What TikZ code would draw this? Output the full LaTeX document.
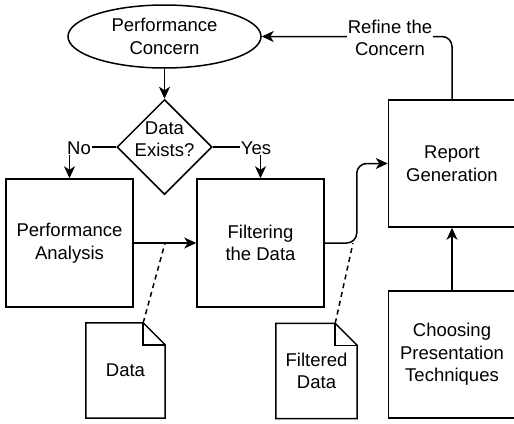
\documentclass[tikz,border=0pt]{standalone}
\usepackage{fontspec}
\setmainfont{Liberation Sans}
\usetikzlibrary{shapes.geometric,arrows.meta,calc}
\begin{document}
\begin{tikzpicture}[x=1pt,y=-1pt,
  every node/.style={font=\fontsize{18.5}{22.5}\selectfont, align=center},
  ln/.style={line width=1.5pt},
  arr/.style={ln, -{Stealth[length=12pt,width=11pt,inset=3.5pt]}},
  boxnode/.style={draw, ln, rectangle, minimum width=127pt, minimum height=128pt, inner sep=0pt},
  docnode/.style={rectangle, minimum height=95pt, inner sep=0pt},
  lbl/.style={fill=white, inner sep=1pt},
  dsh/.style={ln, dash pattern=on 5pt off 4pt}
]
\useasboundingbox (0,0) rectangle (514,423);
\clip (0,0) rectangle (514,423);

\node[draw, ln, ellipse, minimum width=193pt, minimum height=63pt, inner sep=0pt] (pc) at (164.5,36.5) {Performance\\Concern};
\node[draw, ln, diamond, minimum width=95pt, minimum height=95pt, inner sep=0pt] (d) at (164.5,147) {};
\node (dt) at (164.5,139) {Data\\Exists?};

\node[boxnode] (pa) at (69.5,243) {Performance\\Analysis};
\node[boxnode] (ft) at (260.5,243) {Filtering\\the Data};
\node[boxnode, minimum height=127pt] (rg) at (452,163.5) {Report\\Generation};
\node[boxnode, minimum height=127pt] (cp) at (452,354.5) {Choosing\\Presentation\\Techniques};

\node[docnode, minimum width=79pt] (data) at (125.5,370.5) {Data};
\node[docnode, minimum width=81pt] (fd) at (316.5,371) {Filtered\\Data};

\foreach \n in {data,fd}{
  \draw[ln, line join=miter] (\n.north west) -- ($(\n.north east)+(-22,0)$) -- ($(\n.north east)+(0,22)$) -- (\n.south east) -- (\n.south west) -- cycle;
  \draw[ln] ($(\n.north east)+(-22,0)$) -- ($(\n.north east)+(-22,22)$) -- ($(\n.north east)+(0,22)$);
}

\draw[arr] (pc) -- (d);
\draw[arr] (d.west) -| (pa.north);
\draw[arr] (d.east) -| (ft.north);
\draw[arr] (pa.east) -- (ft.west);
\draw[arr, rounded corners=10pt] (ft.east) -- ++(32,0) |- (rg.west);
\draw[arr] (cp) -- (rg);
\draw[arr, rounded corners=10pt] (rg.north) |- (pc.east);

\coordinate (fdm) at (353,243);
\draw[dsh] ($(data.north east)+(-22,0)$) -- ($(pa.east)!0.5!(ft.west)$);
\draw[dsh] ($(fd.north east)+(-22,0)$) -- (fdm);

\node[lbl] (no) at (79,148) {No};
\node[lbl] (yes) at (256,148) {Yes};
\node[lbl] (ref) at (390,38) {Refine the\\Concern};
\end{tikzpicture}
\end{document}
